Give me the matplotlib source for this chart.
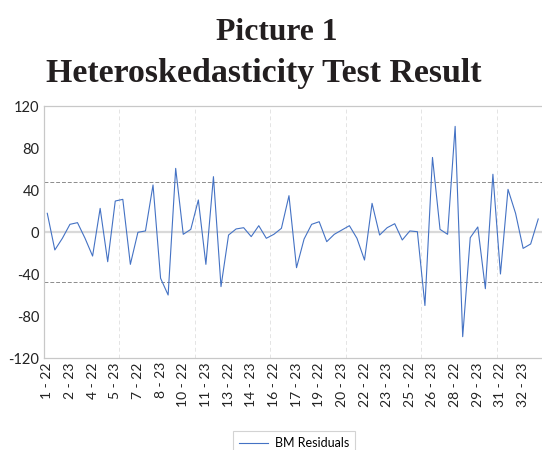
import matplotlib
matplotlib.use("Agg")
import matplotlib.pyplot as plt

# 残差序列（按 "编号 - 年份" 排列，每个编号 22/23 两年）
firms = list(range(1, 34))
years = ["22", "23"]
residuals = [
    17.8, -17.1, -6.0, 7.3, 8.9, -6.0, -22.9, 22.5, -28.3, 29.5,
    31.1, -30.8, -0.3, 1.0, 44.8, -44.0, -60.0, 60.6, -2.2, 2.5,
    30.5, -30.8, 52.7, -52.0, -2.9, 2.9, 4.1, -4.4, 6.0, -6.0,
    -2.2, 3.5, 34.6, -34.0, -6.7, 7.3, 9.8, -9.2, -2.2, 1.9,
    6.0, -6.0, -26.7, 27.3, -2.9, 4.1, 7.9, -7.6, 1.0, 0.3,
    -70.0, 71.0, 2.5, -2.2, 100.6, -99.7, -5.4, 4.8, -54.0, 55.0,
    -40.0, 40.6, 17.8, -15.6, -11.4, 12.4,
]
bound = 48.0  # 上下界（虚线）
y_ticks = [-120, -80, -40, 0, 40, 80, 120]

labels = [f"{f} - {y}" for f in firms for y in years]
x = list(range(len(residuals)))

plt.rcParams["font.family"] = ["Lato", "DejaVu Sans"]

fig = plt.figure(figsize=(5.42, 4.5), dpi=100)
ax = fig.add_axes([43.5 / 542, 1 - 358 / 450, 498.5 / 542, 252 / 450])

# 纵向虚网格：每 10 个类别一条
for b in range(10, len(residuals), 10):
    ax.axvline(b - 0.5, color="#e4e4e4", lw=0.7, ls=(0, (4, 3)), zorder=0)
ax.axhline(0, color="#d9d9d9", lw=1.6, zorder=1)
ax.axhline(bound, color="#8c8c8c", lw=0.7, ls=(0, (4, 2)), zorder=2)
ax.axhline(-bound, color="#8c8c8c", lw=0.7, ls=(0, (4, 2)), zorder=2)

ax.plot(x, residuals, color="#4472C4", lw=0.8, label="BM Residuals", zorder=3)

ax.set_xlim(-0.5, len(residuals) - 0.5)
ax.set_ylim(-120, 120)
ax.set_yticks(y_ticks)
ax.set_yticklabels([str(v) for v in y_ticks], fontsize=10.5, color="#222222")
ax.set_xticks(x[::3])
ax.set_xticklabels(labels[::3], rotation=90, fontsize=10, color="#222222")
ax.tick_params(length=0, pad=3)

for s in ("left", "top", "bottom"):
    ax.spines[s].set_color("#c8c8c8")
    ax.spines[s].set_linewidth(0.9)
ax.spines["right"].set_visible(False)

fig.text(277 / 542, 1 - 40 / 450, "Picture 1", ha="center", va="baseline",
         family="Liberation Serif", weight="bold", fontsize=22.8, color="#231f20")
fig.text(263.5 / 542, 1 - 82 / 450, "Heteroskedasticity Test Result", ha="center", va="baseline",
         family="Liberation Serif", weight="bold", fontsize=24.4, color="#231f20")

leg = fig.legend(loc="upper center", bbox_to_anchor=(294 / 542, 1 - 425 / 450),
                 fontsize=9, frameon=True, fancybox=False, handlelength=2.3,
                 borderpad=0.45, handletextpad=0.6)
leg.get_frame().set_edgecolor("#c8c8c8")
leg.get_frame().set_linewidth(0.8)

fig.savefig("out.png", dpi=100)
